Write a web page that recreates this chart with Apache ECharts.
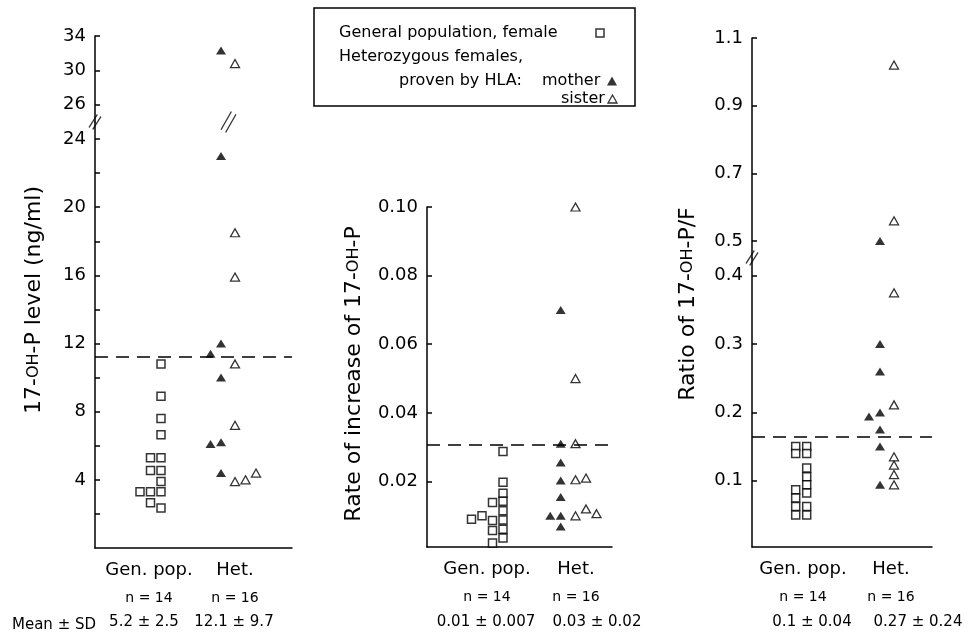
<!DOCTYPE html>
<html><head><meta charset="utf-8">
<script src="https://cdn.jsdelivr.net/npm/echarts@6/dist/echarts.min.js"></script>
<style>html,body{margin:0;padding:0;background:#fff}#c{width:969px;height:635px}</style>
</head><body><div id="c"></div>
<script>
// ---------------- DATA ----------------
const groupLabels = ['Gen. pop.', 'Het.'];
const nLabels = ['n = 14', 'n = 16'];
const seriesNames = { gen: 'General population, female', mother: 'mother', sister: 'sister' };

// Panel A: 17-OH-P level (ng/ml); points are [value, side-by-side slot]
const levelGen = [[10.8,0],[8.9,0],[7.6,0],[6.65,0],[5.3,-1],[5.3,0],[4.55,-1],[4.55,0],[3.9,0],[3.3,-2],[3.3,-1],[3.3,0],[2.65,-1],[2.35,0]];
const levelMother = [[32.3,0],[23.0,0],[12.0,0],[11.4,-1],[10.0,0],[6.1,-1],[6.2,0],[4.4,0]];
const levelSister = [[30.8,0],[18.5,0],[15.9,0],[10.8,0],[7.2,0],[3.9,0],[4.0,1],[4.4,2]];
const levelCutoff = 11.2;
const levelMeans = ['5.2 ± 2.5', '12.1 ± 9.7'];
const levelTicksHigh = [26, 30, 34];
const levelTicksLow = [2,4,6,8,10,12,14,16,18,20,22,24];
const levelLabelsLow = [4, 8, 12, 16, 20, 24];

// Panel B: rate of increase of 17-OH-P
const rateGen = [[0.0287,0],[0.0198,0],[0.0166,0],[0.0142,0],[0.0115,0],[0.0088,0],[0.0061,0],[0.0035,0],[0.0139,-1],[0.0086,-1],[0.0057,-1],[0.0021,-1],[0.0100,-2],[0.0090,-3]];
const rateMother = [[0.070,0],[0.031,0],[0.0255,0],[0.0203,0],[0.0155,0],[0.0100,-1],[0.0100,0],[0.0069,0]];
const rateSister = [[0.100,0],[0.050,0],[0.031,0],[0.0205,0],[0.021,1],[0.0100,0],[0.0120,1],[0.0106,2]];
const rateCutoff = 0.0307;
const rateMeans = ['0.01 ± 0.007', '0.03 ± 0.02'];
const rateTicks = [0.02, 0.04, 0.06, 0.08, 0.10];

// Panel C: ratio of 17-OH-P/F
const ratioGen = [[0.15,-1],[0.15,0],[0.14,-1],[0.14,0],[0.1185,0],[0.106,0],[0.094,0],[0.082,0],[0.0623,0],[0.050,0],[0.0868,-1],[0.0746,-1],[0.0623,-1],[0.050,-1]];
const ratioMother = [[0.50,0],[0.30,0],[0.26,0],[0.20,0],[0.194,-1],[0.175,0],[0.150,0],[0.094,0]];
const ratioSister = [[1.02,0],[0.56,0],[0.375,0],[0.211,0],[0.135,0],[0.123,0],[0.109,0],[0.094,0]];
const ratioCutoff = 0.1644;
const ratioMeans = ['0.1 ± 0.04', '0.27 ± 0.24'];
const ratioTicksHigh = [0.5, 0.7, 0.9, 1.1];
const ratioTicksLow = [0.1, 0.2, 0.3, 0.4];

// ---------------- LAYOUT ----------------
const FONT = 'DejaVu Sans';
const BLACK = '#000';
const panels = [
  { left: 95, width: 197, step: 10.5, cols: { gen: 66, mother: 126, sister: 140 },
    labelPos: [54, 140], meanPos: [49, 139], decimals: 0,
    segments: [
      { top: 36, height: 86, min: 24, max: 34, ticks: levelTicksHigh, labels: levelTicksHigh },
      { top: 122, height: 426, min: 0, max: 25, ticks: levelTicksLow, labels: levelLabelsLow }
    ],
    data: { gen: levelGen, mother: levelMother, sister: levelSister },
    cutoff: levelCutoff, means: levelMeans, breaks: ['axis', 'het'] },
  { left: 427, width: 185, step: 10.5, cols: { gen: 76, mother: 133.7, sister: 148.5 },
    labelPos: [60, 149], meanPos: [59, 170], decimals: 2,
    segments: [
      { top: 207, height: 340, min: 0.0009, max: 0.10, ticks: rateTicks, labels: rateTicks }
    ],
    data: { gen: rateGen, mother: rateMother, sister: rateSister },
    cutoff: rateCutoff, means: rateMeans, breaks: [] },
  { left: 752, width: 180, step: 11, cols: { gen: 54.7, mother: 128, sister: 142 },
    labelPos: [51, 139], meanPos: [60, 166], decimals: 1,
    segments: [
      { top: 38, height: 220, min: 0.45, max: 1.1, ticks: ratioTicksHigh, labels: ratioTicksHigh },
      { top: 258, height: 289, min: 0.003, max: 0.426, ticks: ratioTicksLow, labels: ratioTicksLow }
    ],
    data: { gen: ratioGen, mother: ratioMother, sister: ratioSister },
    cutoff: ratioCutoff, means: ratioMeans, breaks: ['axis'] }
];
const MEAN_ROW_TOP = 614;

const symbolStyles = {
  gen: { symbol: 'rect', symbolSize: 8, itemStyle: { color: '#fff', borderColor: BLACK, borderWidth: 1.5 } },
  mother: { symbol: 'triangle', symbolSize: [10, 8], itemStyle: { color: BLACK, borderWidth: 0 } },
  sister: { symbol: 'triangle', symbolSize: [9, 8], itemStyle: { color: '#fff', borderColor: BLACK, borderWidth: 1.3 } }
};
const axisLineStyle = { color: BLACK, width: 1.5 };

const grid = [], xAxis = [], yAxis = [], series = [];

function nearestIndex(list, v) {
  let k = 0, best = Infinity;
  list.forEach((x, i) => { if (Math.abs(x - v) < best) { best = Math.abs(x - v); k = i; } });
  return k;
}

panels.forEach((p) => {
  const nSeg = p.segments.length;
  const segGrid = [];
  p.segments.forEach((s, si) => {
    const gi = grid.length;
    segGrid.push(gi);
    const isBottom = si === nSeg - 1;
    grid.push({ left: p.left, top: s.top, width: p.width, height: s.height });
    xAxis.push({
      gridIndex: gi, type: 'value', min: 0, max: p.width, show: isBottom,
      axisLine: { show: true, onZero: false, lineStyle: axisLineStyle },
      axisTick: { show: false }, splitLine: { show: false },
      axisLabel: isBottom ? {
        show: true, margin: 8, customValues: p.labelPos, hideOverlap: false,
        formatter: (v) => {
          const k = nearestIndex(p.labelPos, v);
          return '{g|' + groupLabels[k] + '}\n{n|' + nLabels[k] + '}';
        },
        rich: {
          g: { fontFamily: FONT, fontSize: 18, lineHeight: 28, color: BLACK, align: 'center' },
          n: { fontFamily: FONT, fontSize: 14, lineHeight: 28, color: BLACK, align: 'center' }
        }
      } : { show: false }
    });
    yAxis.push({
      gridIndex: gi, type: 'value', min: s.min, max: s.max,
      axisLine: { show: true, onZero: false, lineStyle: axisLineStyle },
      axisTick: { show: true, inside: true, length: 5, customValues: s.ticks, lineStyle: axisLineStyle },
      axisLabel: { show: true, customValues: s.labels, margin: 9, fontFamily: FONT, fontSize: 18, color: BLACK,
        hideOverlap: false, formatter: (v) => Number(v).toFixed(p.decimals) },
      splitLine: { show: false }
    });
  });

  // row of "mean ± SD" values: its own label-only axis under the panel
  const mg = grid.length;
  const plotBottom = p.segments[nSeg - 1].top + p.segments[nSeg - 1].height;
  grid.push({ left: p.left, top: plotBottom, width: p.width, height: MEAN_ROW_TOP - plotBottom });
  xAxis.push({
    gridIndex: mg, type: 'value', min: 0, max: p.width,
    axisLine: { show: false }, axisTick: { show: false }, splitLine: { show: false },
    axisLabel: { show: true, margin: 0, customValues: p.meanPos, hideOverlap: false,
      formatter: (v) => p.means[nearestIndex(p.meanPos, v)],
      fontFamily: FONT, fontSize: 15, lineHeight: 26, color: BLACK }
  });
  yAxis.push({ gridIndex: mg, type: 'value', min: 0, max: 1, show: false });

  const bottomSeg = nSeg - 1;
  const lowerMax = p.segments[bottomSeg].max;
  ['gen', 'mother', 'sister'].forEach((key) => {
    const pts = p.data[key];
    p.segments.forEach((s, si) => {
      const inSeg = pts.filter(([v]) => (si === bottomSeg ? v <= lowerMax : v > lowerMax));
      if (!inSeg.length && !(key === 'gen' && si === bottomSeg)) return;
      const ser = Object.assign({
        name: seriesNames[key], type: 'scatter', xAxisIndex: segGrid[si], yAxisIndex: segGrid[si],
        data: inSeg.map(([v, slot]) => [p.cols[key] + slot * p.step, v]),
        z: 3, clip: false, emphasis: { disabled: true }, silent: true
      }, JSON.parse(JSON.stringify(symbolStyles[key])));
      if (key === 'gen' && si === bottomSeg) {
        ser.markLine = {
          silent: true, symbol: 'none', label: { show: false }, animation: false, precision: 6,
          lineStyle: { type: [13, 8], color: BLACK, width: 1.5 },
          data: [{ yAxis: p.cutoff }]
        };
      }
      series.push(ser);
    });
  });

  // axis-break marks on the lower segment's top edge
  if (p.breaks.length) {
    const gi = segGrid[bottomSeg];
    const brk = [];
    p.breaks.forEach((b) => {
      if (b === 'axis') brk.push({ value: [0, lowerMax], symbolSize: [12, 15] });
      else brk.push({ value: [(p.cols.mother + p.cols.sister) / 2 + 0.5, lowerMax], symbolSize: [15, 21] });
    });
    series.push({
      name: 'break', type: 'scatter', xAxisIndex: gi, yAxisIndex: gi, clip: false, silent: true, z: 5,
      symbol: 'path://M0,13 L9,0 M4,15 L13,2', symbolKeepAspect: false,
      itemStyle: { color: 'rgba(0,0,0,0)', borderColor: BLACK, borderWidth: 1.3 },
      emphasis: { disabled: true }, data: brk
    });
  }
});

function vText(text, x, y) {
  return { type: 'text', x: x, y: y, rotation: Math.PI / 2, silent: true,
    style: { text: text, fontFamily: FONT, fontSize: 22, fill: BLACK,
      align: 'center', verticalAlign: 'middle', textAlign: 'center', textVerticalAlign: 'middle',
      rich: { s: { fontFamily: FONT, fontSize: 16, fill: BLACK } } } };
}
const legText = { fontFamily: FONT, fontSize: 16, lineHeight: 18, color: BLACK, align: 'left' };

const option = {
  animation: false,
  backgroundColor: '#fff',
  grid, xAxis, yAxis, series,
  legend: [
    { data: [seriesNames.gen], left: 339, top: 25, padding: 0, orient: 'horizontal', align: 'right', selectedMode: false,
      icon: 'rect', itemWidth: 8, itemHeight: 8,
      itemStyle: { color: '#fff', borderColor: BLACK, borderWidth: 1.5 },
      formatter: (n) => '{t|' + n + '}',
      textStyle: { rich: { t: Object.assign({ width: 252 }, legText) } } },
    { data: [seriesNames.mother], left: 399, top: 73, padding: 0, orient: 'horizontal', align: 'right', selectedMode: false,
      icon: 'triangle', itemWidth: 10, itemHeight: 9,
      itemStyle: { color: BLACK, borderWidth: 0 },
      formatter: (n) => '{a|proven by HLA:}{t|' + n + '}',
      textStyle: { rich: { a: Object.assign({ width: 143 }, legText), t: Object.assign({ width: 60 }, legText) } } },
    { data: [seriesNames.sister], left: 561, top: 91, padding: 0, orient: 'horizontal', align: 'right', selectedMode: false,
      icon: 'triangle', itemWidth: 9, itemHeight: 8,
      itemStyle: { color: '#fff', borderColor: BLACK, borderWidth: 1.3 },
      formatter: (n) => '{t|' + n + '}',
      textStyle: { rich: { t: Object.assign({ width: 42 }, legText) } } }
  ],
  graphic: [
    { type: 'rect', shape: { x: 314, y: 8, width: 321, height: 98 }, silent: true, z: -1,
      style: { fill: 'none', stroke: BLACK, lineWidth: 1.5 } },
    { type: 'text', x: 339, y: 57, silent: true,
      style: { text: 'Heterozygous females,', fontFamily: FONT, fontSize: 16, fill: BLACK,
        align: 'left', verticalAlign: 'middle', textAlign: 'left', textVerticalAlign: 'middle' } },
    vText('17-{s|OH}-P level (ng/ml)', 34, 300),
    vText('Rate of increase of 17-{s|OH}-P', 354, 374),
    vText('Ratio of 17-{s|OH}-P/F', 688, 304),
    { type: 'text', x: 12, y: 625, silent: true,
      style: { text: 'Mean ± SD', fontFamily: FONT, fontSize: 15, fill: BLACK,
        align: 'left', verticalAlign: 'middle', textAlign: 'left', textVerticalAlign: 'middle' } }
  ]
};

const chart = echarts.init(document.getElementById('c'), null, { renderer: 'canvas' });
chart.setOption(option);
</script>
</body></html>
